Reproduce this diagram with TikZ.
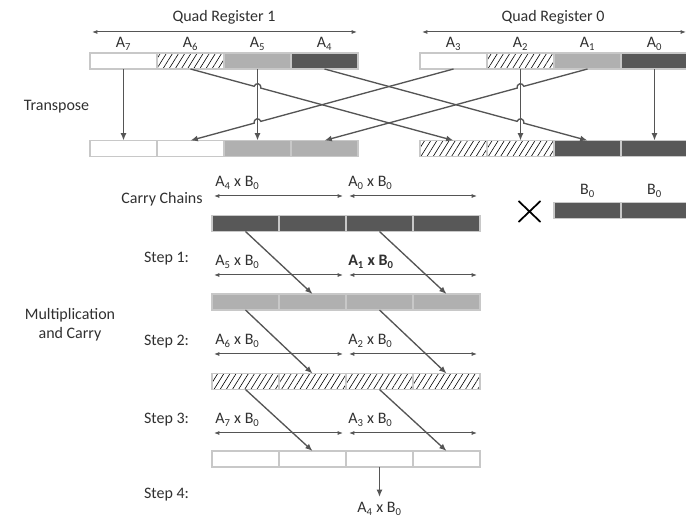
\documentclass[tikz,border=0pt]{standalone}
\usepackage{fontspec}
\setmainfont{Carlito}
\usetikzlibrary{arrows.meta,calc,patterns.meta}
\definecolor{dk}{HTML}{585858}
\definecolor{lt}{HTML}{B0B0B0}
\definecolor{bd}{HTML}{C8C8C8}
\definecolor{ln}{HTML}{555555}
\definecolor{tx}{HTML}{303030}
\begin{document}
\begin{tikzpicture}[x=0.75pt,y=0.75pt,
 cell/.style={draw=bd, line width=1.1pt, minimum width=50.25pt, minimum height=12pt, inner sep=0pt, outer sep=0pt},
 dkc/.style={cell, fill=dk},
 ltc/.style={cell, fill=lt},
 wtc/.style={cell, fill=white},
 htc/.style={cell, preaction={fill=white}, pattern={Lines[angle=58,distance=3.9pt,line width=0.45pt]}, pattern color=black},
 conn/.style={draw=ln, line width=1pt, -{Latex[length=5.5pt,width=4.5pt]}},
 dbl/.style={draw=ln, line width=0.75pt, {Latex[length=4pt,width=3pt]}-{Latex[length=4pt,width=3pt]}},
 lbl/.style={text=tx, font=\fontsize{12}{14}\selectfont, inner sep=0pt},
]
\useasboundingbox (0,0) rectangle (686,-516);

% ---------- top registers ----------
\node[wtc] (a7) at (123.5,-61) {};
\node[htc] (a6) at (190.5,-61) {};
\node[ltc] (a5) at (257.5,-61) {};
\node[dkc] (a4) at (324.5,-61) {};
\node[wtc] (a3) at (453.5,-61) {};
\node[htc] (a2) at (520.5,-61) {};
\node[ltc] (a1) at (587.5,-61) {};
\node[dkc] (a0) at (654.5,-61) {};

\node[wtc] (t1) at (123.5,-148.5) {};
\node[wtc] (t2) at (190.5,-148.5) {};
\node[ltc] (t3) at (257.5,-148.5) {};
\node[ltc] (t4) at (324.5,-148.5) {};
\node[htc] (t5) at (453.5,-148.5) {};
\node[htc] (t6) at (520.5,-148.5) {};
\node[dkc] (t7) at (587.5,-148.5) {};
\node[dkc] (t8) at (654.5,-148.5) {};

\node[lbl] (lq1) at (224,-17) {Quad Register 1};
\node[lbl] (lq0) at (553,-17) {Quad Register 0};
\coordinate (q1l) at (92,-32);
\coordinate (q1r) at (357,-32);
\coordinate (q0l) at (422,-32);
\coordinate (q0r) at (686,-32);
\draw[dbl] (q1l) -- (q1r);
\draw[dbl] (q0l) -- (q0r);

\node[lbl] (la7) at (123.5,-44) {A\textsubscript{7}};
\node[lbl] (la6) at (190.5,-44) {A\textsubscript{6}};
\node[lbl] (la5) at (257.5,-44) {A\textsubscript{5}};
\node[lbl] (la4) at (324.5,-44) {A\textsubscript{4}};
\node[lbl] (la3) at (453.5,-44) {A\textsubscript{3}};
\node[lbl] (la2) at (520.5,-44) {A\textsubscript{2}};
\node[lbl] (la1) at (587.5,-44) {A\textsubscript{1}};
\node[lbl] (la0) at (654.5,-44) {A\textsubscript{0}};

\node[lbl] (ltr) at (56.5,-107) {Transpose};

% vertical transposes
\draw[conn] (a7.south) -- (t1.north);
\draw[conn] (a5.south) -- (t3.north);
\draw[conn] (a2.south) -- (t6.north);
\draw[conn] (a0.south) -- (t8.north);

% diagonal transposes with hops
\coordinate (h1) at (intersection of a6.south--t5.north and a5.south--t3.north);
\coordinate (h2) at (intersection of a4.south--t7.north and a2.south--t6.north);
\coordinate (h3) at (intersection of a3.south--t2.north and a5.south--t3.north);
\coordinate (h4) at (intersection of a1.south--t4.north and a2.south--t6.north);
\draw[conn] (a6.south) -- ($(h1)!2.6pt!(a6.south)$) arc[start angle=165, end angle=-15, radius=2.6pt] -- (t5.north);
\draw[conn] (a4.south) -- ($(h2)!2.6pt!(a4.south)$) arc[start angle=165, end angle=-15, radius=2.6pt] -- (t7.north);
\draw[conn] (a3.south) -- ($(h3)!2.6pt!(a3.south)$) arc[start angle=15, end angle=195, radius=2.6pt] -- (t2.north);
\draw[conn] (a1.south) -- ($(h4)!2.6pt!(a1.south)$) arc[start angle=15, end angle=195, radius=2.6pt] -- (t4.north);

% ---------- carry chains ----------
\node[dkc] (c1) at (245.5,-223.5) {};
\node[dkc] (c2) at (312.5,-223.5) {};
\node[dkc] (c3) at (379.5,-223.5) {};
\node[dkc] (c4) at (446.5,-223.5) {};

\node[ltc] (s1) at (245.5,-302) {};
\node[ltc] (s2) at (312.5,-302) {};
\node[ltc] (s3) at (379.5,-302) {};
\node[ltc] (s4) at (446.5,-302) {};

\node[htc] (m1) at (245.5,-381.5) {};
\node[htc] (m2) at (312.5,-381.5) {};
\node[htc] (m3) at (379.5,-381.5) {};
\node[htc] (m4) at (446.5,-381.5) {};

\node[wtc] (w1) at (245.5,-459) {};
\node[wtc] (w2) at (312.5,-459) {};
\node[wtc] (w3) at (379.5,-459) {};
\node[wtc] (w4) at (446.5,-459) {};

% B0 register
\node[dkc] (b1) at (587.5,-210.5) {};
\node[dkc] (b2) at (654.5,-210.5) {};
\node[lbl] (lb1) at (587.5,-191) {B\textsubscript{0}};
\node[lbl] (lb2) at (654.5,-191) {B\textsubscript{0}};
\draw[black, line width=1.3pt] (518.5,-201) -- (540.5,-222) (518.5,-222) -- (540.5,-201);

% left labels
\node[lbl] (lcc) at (162,-199) {Carry Chains};
\node[lbl] (ls1) at (166.5,-259) {Step 1:};
\node[lbl] (ls2) at (166.5,-342) {Step 2:};
\node[lbl] (ls3) at (166.5,-420) {Step 3:};
\node[lbl] (ls4) at (166.5,-495) {Step 4:};
\node[lbl, align=center] (lmc) at (70,-325) {Multiplication\\and Carry};

% row labels and brackets
\node[lbl, anchor=west] (r0a) at (215,-183) {A\textsubscript{4} x B\textsubscript{0}};
\node[lbl, anchor=west] (r0b) at (348,-183) {A\textsubscript{0} x B\textsubscript{0}};
\node[lbl, anchor=west] (r1a) at (215,-262) {A\textsubscript{5} x B\textsubscript{0}};
\node[lbl, anchor=west, font=\fontsize{12}{14}\selectfont\bfseries] (r1b) at (348,-262) {A\textsubscript{1} x B\textsubscript{0}};
\node[lbl, anchor=west] (r2a) at (215,-341) {A\textsubscript{6} x B\textsubscript{0}};
\node[lbl, anchor=west] (r2b) at (348,-341) {A\textsubscript{2} x B\textsubscript{0}};
\node[lbl, anchor=west] (r3a) at (215,-420) {A\textsubscript{7} x B\textsubscript{0}};
\node[lbl, anchor=west] (r3b) at (348,-420) {A\textsubscript{3} x B\textsubscript{0}};

\foreach \yy/\nm in {196/k0,275/k1,354/k2,433/k3}{
  \coordinate (\nm l1) at (214,-\yy);
  \coordinate (\nm r1) at (343,-\yy);
  \coordinate (\nm l2) at (349,-\yy);
  \coordinate (\nm r2) at (477,-\yy);
  \draw[dbl] (\nm l1) -- (\nm r1);
  \draw[dbl] (\nm l2) -- (\nm r2);
}

% carry arrows
\draw[conn] (c1.south) -- (s2.north);
\draw[conn] (c3.south) -- (s4.north);
\draw[conn] (s1.south) -- (m2.north);
\draw[conn] (s3.south) -- (m4.north);
\draw[conn] (m1.south) -- (w2.north);
\draw[conn] (m3.south) -- (w4.north);

\node[lbl] (ans) at (379.5,-509) {A\textsubscript{4} x B\textsubscript{0}};
\draw[conn] (w3.south) -- ($(w3.south)+(0,-30)$);
\end{tikzpicture}
\end{document}
